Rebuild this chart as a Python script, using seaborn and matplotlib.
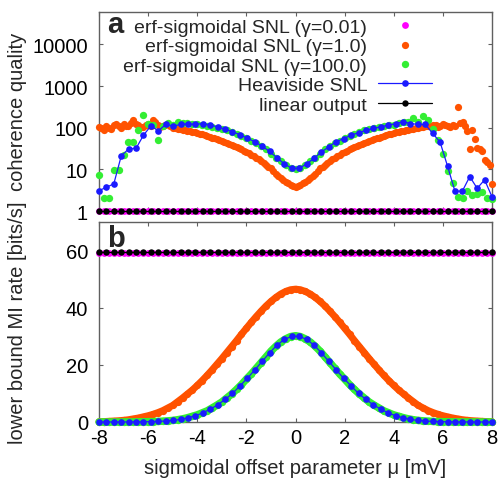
import numpy as np
import pandas as pd
import matplotlib
matplotlib.use("Agg")
import matplotlib.pyplot as plt
import seaborn as sns

# ---------------- data ----------------
# mu grids (sigmoidal offset parameter, mV)
MU_DENSE = np.round(np.linspace(-8, 8, 161), 4)   # gamma=1.0 series, panel a
MU_FINE = np.round(np.linspace(-8, 8, 81), 4)     # gamma-sweep series
MU_COARSE = np.round(np.linspace(-8, 8, 54), 4)   # Heaviside SNL & linear output

# panel a: coherence quality
Q_GAMMA001 = [1.0] * 81
Q_GAMMA1 = [105, 98, 90, 110, 100, 95, 115, 120, 108, 100, 120, 112, 112, 130, 150,
            125, 118, 105, 105, 115, 125, 110, 150, 135, 115, 105, 108, 118, 120, 110,
            100, 97.5, 95, 92.5, 90, 87.5, 85, 82.5, 80, 77.5, 75, 72, 69, 66, 63, 60, 57.5,
            55.2, 53, 50.5, 48, 45.5, 43, 40.7, 38.5, 36.2, 34, 32, 30, 28, 26, 24.2, 22.5,
            20.7, 19, 17.5, 16, 14.5, 13, 11.7, 10.5, 9.1, 7.8, 7.0, 6.2, 5.6, 5.0, 4.6, 4.2, 3.9,
            3.8,
            3.9, 4.2, 4.6, 5.0, 5.6, 6.2, 7.0, 7.8, 9.1, 10.5, 11.7, 13, 14.5, 16, 17.5, 19,
            20.7, 22.5, 24.2, 26, 28, 30, 32, 34, 36.2, 38.5, 40.7, 43, 45.5, 48, 50.5, 53,
            55.2, 57.5, 60, 63, 66, 69, 72, 75, 77.5, 80, 82.5, 85, 87.5, 90, 92.5, 95, 97.5, 100,
            102, 104, 110, 112, 108, 118, 115, 106, 112, 122, 118, 110, 105, 115, 112,
            320, 130, 135, 110, 85, 30, 87, 55, 32, 30, 28, 17, 15, 12.6, 4.5]
Q_GAMMA100 = [7.4, 2.0, 2.0, 9.7, 9.7, 22, 46, 46, 87, 200, 120, 118, 50, 110, 130, 115, 140, 128, 132,
              122, 120, 118, 112, 106, 100, 94, 88, 80, 72, 64, 56, 49, 42, 36, 30, 24, 19, 15.5, 12.5, 10.6,
              10.0,
              10.6, 12.5, 15.5, 19, 24, 30, 36, 42, 49, 56, 64, 72, 80, 88, 94, 100, 106, 112, 116,
              118, 128, 135, 140, 170, 140, 195, 150, 95, 50, 24, 9, 4.7, 2.2, 2.0, 3.0, 2.4, 2.6, 2.9, 2.0, 1.9]
Q_HEAVISIDE = [3.1, 3.7, 4.5, 21, 31, 32, 66, 111, 84, 120,
               109, 120, 124, 120, 126, 115, 105, 92, 80, 68,
               56, 46, 36, 27, 19, 13.5, 10.6, 10.6, 13.5, 18.5,
               26, 35, 46, 55, 66, 76, 87, 96, 105, 115,
               125, 140, 126, 120, 120, 73, 45, 12, 3.0, 3.0,
               6.7, 3.5, 5.6, 2.2]
Q_LINEAR = [1.0] * 54

# panel b: lower bound MI rate [bits/s]
MI_GAMMA001 = [59.1] * 81
MI_GAMMA1 = [0.1, 0.15, 0.25, 0.35, 0.45, 0.6, 0.8, 1.1, 1.4, 1.8, 2.2, 2.7, 3.3, 4.0, 4.9,
             5.8, 7.1, 8.4, 9.8, 11.2, 12.8, 14.5, 16.3, 18.2, 20.2, 22.2, 24.3, 26.4, 28.5, 30.7,
             32.8, 34.9, 36.9, 38.8, 40.6, 42.2, 43.6, 44.8, 45.7, 46.3,
             46.5,
             46.3, 45.7, 44.8, 43.6, 42.2, 40.6, 38.8, 36.9, 34.9, 32.8, 30.7, 28.5, 26.4, 24.3, 22.2,
             20.2, 18.2, 16.3, 14.5, 12.8, 11.2, 9.8, 8.4, 7.1, 5.8, 4.9, 4.0, 3.3, 2.7, 2.2,
             1.8, 1.4, 1.1, 0.8, 0.6, 0.45, 0.35, 0.25, 0.15, 0.1]
MI_GAMMA100 = [0.0, 0.0, 0.0, 0.0, 0.01, 0.01, 0.02, 0.03, 0.05, 0.07, 0.1, 0.13, 0.2, 0.3, 0.4,
               0.55, 0.8, 1.1, 1.5, 2.0, 2.5, 3.2, 3.9, 4.9, 5.9, 7.0, 8.4, 9.8, 11.4, 13.1,
               15.0, 16.8, 18.8, 20.8, 22.8, 24.8, 26.5, 28.0, 29.1, 29.9,
               30.2,
               29.9, 29.1, 28.0, 26.5, 24.8, 22.8, 20.8, 18.8, 16.8, 15.0, 13.1, 11.4, 9.8, 8.4, 7.0,
               5.9, 4.9, 3.9, 3.2, 2.5, 2.0, 1.5, 1.1, 0.8, 0.55, 0.4, 0.3, 0.2, 0.13, 0.1,
               0.07, 0.05, 0.03, 0.02, 0.01, 0.01, 0.0, 0.0, 0.0, 0.0]
MI_HEAVISIDE = [0.0, 0.0, 0.01, 0.01, 0.02, 0.04, 0.07, 0.12, 0.2, 0.35, 0.55, 0.9, 1.5, 2.2,
                3.2, 4.5, 6.0, 7.9, 10.0, 12.6, 15.3, 18.2, 21.2, 24.2, 26.9, 28.9, 30.0,
                30.0, 28.9, 26.9, 24.2, 21.2, 18.2, 15.3, 12.6, 10.0, 7.9, 6.0, 4.5, 3.2,
                2.2, 1.5, 0.9, 0.55, 0.35, 0.2, 0.12, 0.07, 0.04, 0.02, 0.01, 0.01, 0.0, 0.0]
MI_LINEAR = [59.6] * 54

LABELS = ["erf-sigmoidal SNL (\u03b3=0.01)", "erf-sigmoidal SNL (\u03b3=1.0)",
          "erf-sigmoidal SNL (\u03b3=100.0)", "Heaviside SNL", "linear output"]
X_TICKS = [-8, -6, -4, -2, 0, 2, 4, 6, 8]
A_YTICKS = [1, 10, 100, 1000, 10000]
A_YTICKLABELS = ["1", "10", "100", "1000", "10000"]
B_YTICKS = [0, 20, 40, 60]

# ---------------- style ----------------
PINK = "#ff00ff"
ORANGE = "#ff5200"
GREEN = "#33ee33"
BLUE = "#1a1aff"
BLACK = "#000000"
SPINE = "#606060"

sns.set_style("ticks")
plt.rcParams["font.family"] = ["Liberation Sans", "DejaVu Sans"]
plt.rcParams["axes.unicode_minus"] = False

fig = plt.figure(figsize=(4.98, 4.85), dpi=100)
ax_a = fig.add_axes([99 / 498, 1 - 212 / 485, 393 / 498, 199.5 / 485])
ax_b = fig.add_axes([99 / 498, 1 - 423 / 485, 393 / 498, 200 / 485])
ax_a.set_yscale("log")


def draw(ax, x1, q001, q1, q100, qh, ql, fill_lines):
    sns.scatterplot(x=MU_FINE, y=q001, ax=ax, color=PINK, s=24, linewidth=0,
                    label=LABELS[0], clip_on=False, zorder=3)
    if fill_lines:
        sns.lineplot(x=x1, y=q1, ax=ax, color=ORANGE, lw=5.0, errorbar=None,
                     label="_nolegend_", clip_on=False, zorder=3)
    sns.scatterplot(x=x1, y=q1, ax=ax, color=ORANGE, s=27, linewidth=0,
                    label=LABELS[1], clip_on=False, zorder=3)
    if fill_lines:
        sns.lineplot(x=MU_FINE, y=q100, ax=ax, color=GREEN, lw=5.4, errorbar=None,
                     label="_nolegend_", clip_on=False, zorder=3)
    sns.scatterplot(x=MU_FINE, y=q100, ax=ax, color=GREEN, s=28, linewidth=0,
                    label=LABELS[2], clip_on=False, zorder=3)
    sns.lineplot(x=MU_COARSE, y=qh, ax=ax, color=BLUE, lw=0.9, marker="o", ms=4.8,
                 mec=BLUE, mew=0, errorbar=None, label=LABELS[3], clip_on=False, zorder=4)
    sns.lineplot(x=MU_COARSE, y=ql, ax=ax, color=BLACK, lw=0.9, marker="o", ms=4.6,
                 mec=BLACK, mew=0, errorbar=None, label=LABELS[4], clip_on=False, zorder=4)


draw(ax_a, MU_DENSE, Q_GAMMA001, Q_GAMMA1, Q_GAMMA100, Q_HEAVISIDE, Q_LINEAR, False)
draw(ax_b, MU_FINE, MI_GAMMA001, MI_GAMMA1, MI_GAMMA100, MI_HEAVISIDE, MI_LINEAR, True)

for ax in (ax_a, ax_b):
    ax.set_xlim(-8, 8)
    ax.set_xticks(X_TICKS)
    ax.tick_params(which="major", direction="in", top=True, right=True, length=3.2,
                   width=0.8, color=SPINE, labelsize=14.5, labelcolor="black")
    ax.tick_params(axis="y", pad=8)
    ax.tick_params(axis="x", pad=4.5)
    for sp in ax.spines.values():
        sp.set_color(SPINE)
        sp.set_linewidth(1.0)
        sp.set_zorder(1)

ax_a.set_ylim(1, 10 ** 4.79)
ax_a.set_yticks(A_YTICKS)
ax_a.set_yticklabels(A_YTICKLABELS)
ax_a.tick_params(which="minor", direction="in", right=True, length=1.8, width=0.7, color=SPINE)
ax_a.tick_params(axis="x", labelbottom=False)
ax_a.set_xlabel("")

ax_b.set_ylim(0, 70)
ax_b.set_yticks(B_YTICKS)
ax_b.minorticks_off()

ax_a.set_ylabel("coherence quality", fontsize=14.5)
ax_b.set_ylabel("lower bound MI rate [bits/s]", fontsize=14.5)
ax_b.set_xlabel("sigmoidal offset parameter \u03bc [mV]", fontsize=14.5, labelpad=7.5)
for ax in (ax_a, ax_b):
    ax.yaxis.set_label_coords(-0.183, 0.5)

ax_a.text(0.02, 0.896, "a", transform=ax_a.transAxes, fontsize=21, fontweight="bold",
          va="baseline", ha="left")
ax_b.text(0.02, 0.88, "b", transform=ax_b.transAxes, fontsize=21, fontweight="bold",
          va="baseline", ha="left")

if ax_b.get_legend() is not None:
    ax_b.get_legend().remove()
handles, labels = ax_a.get_legend_handles_labels()
ax_a.legend(handles, labels, loc="upper right", bbox_to_anchor=(0.848, 0.966),
            frameon=False, markerfirst=False, handlelength=2.8, handletextpad=0.55,
            labelspacing=0.095, borderpad=0, borderaxespad=0, fontsize=14,
            scatterpoints=1, scatteryoffsets=[0.5])

fig.savefig("out.png", dpi=100)
